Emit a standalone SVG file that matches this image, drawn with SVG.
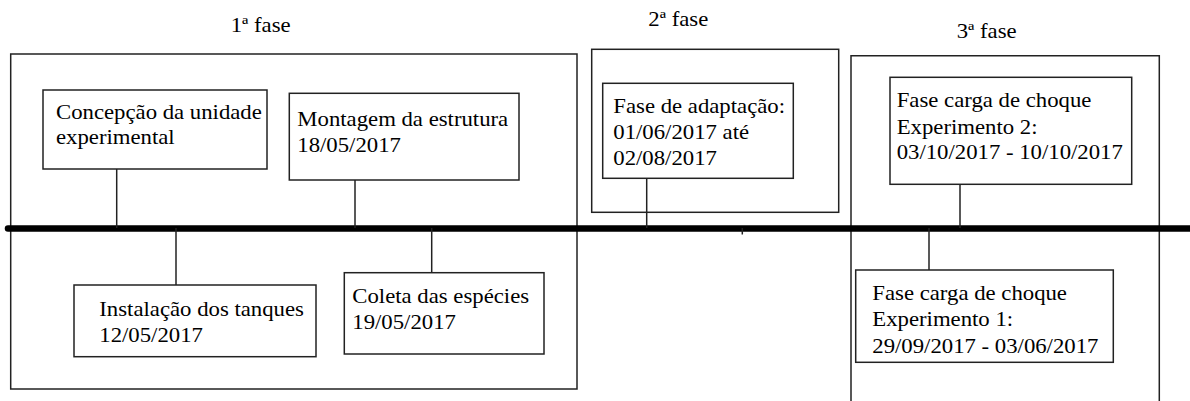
<svg xmlns="http://www.w3.org/2000/svg" width="1190" height="401" viewBox="0 0 1190 401">
<style>
.t{font-family:'Liberation Serif','Times New Roman',serif;font-size:20.5px;fill:#000}
.box{fill:#fff;stroke:#222;stroke-width:1.5}
.frame{fill:none;stroke:#222;stroke-width:1.5}
.c{stroke:#222;stroke-width:1.5;fill:none}
.axis{stroke:#000;stroke-width:6.5;stroke-linecap:round}
</style>
<rect width="1190" height="401" fill="#fff"/>
<g id="phase1">
<rect class="frame" x="10.7" y="54" width="566.3" height="335"/>
<text class="t" transform="translate(230.7,31.7) scale(1.11,1)">1ª fase</text>
</g>
<g id="phase2">
<rect class="frame" x="591.7" y="49.3" width="247" height="163"/>
<text class="t" transform="translate(648.3,26) scale(1.11,1)">2ª fase</text>
</g>
<g id="phase3">
<path class="frame" d="M851,402 V55.7 H1159.3 V402"/>
<text class="t" transform="translate(956.7,38.3) scale(1.11,1)">3ª fase</text>
</g>
<g id="connectors">
<line class="axis" x1="8" y1="228.5" x2="1195" y2="228.5"/>
<line class="c" x1="116.7" y1="169" x2="116.7" y2="228"/>
<line class="c" x1="355" y1="180" x2="355" y2="228"/>
<line class="c" x1="176" y1="228" x2="176" y2="285"/>
<line class="c" x1="431.7" y1="228" x2="431.7" y2="272.7"/>
<line class="c" x1="646.7" y1="178.3" x2="646.7" y2="228"/>
<line class="c" x1="742.3" y1="228" x2="742.3" y2="234.5"/>
<line class="c" x1="960" y1="184.3" x2="960" y2="228"/>
<line class="c" x1="929" y1="228" x2="929" y2="270"/>
</g>
<g id="concepcao">
<rect class="box" x="43" y="90" width="224" height="79"/>
<text class="t" transform="translate(56,119) scale(1.11,1)"><tspan x="0" y="0">Concepção da unidade</tspan><tspan x="0" y="25">experimental</tspan></text>
</g>
<g id="montagem">
<rect class="box" x="289.3" y="93.3" width="229.7" height="86.7"/>
<text class="t" transform="translate(297.3,125.7) scale(1.11,1)"><tspan x="0" y="0">Montagem da estrutura</tspan><tspan x="0" y="26.3">18/05/2017</tspan></text>
</g>
<g id="instalacao">
<rect class="box" x="74" y="285" width="242" height="71.7"/>
<text class="t" transform="translate(99.3,315.7) scale(1.11,1)"><tspan x="0" y="0">Instalação dos tanques</tspan><tspan x="0" y="26">12/05/2017</tspan></text>
</g>
<g id="coleta">
<rect class="box" x="344.3" y="272.7" width="199.7" height="81.3"/>
<text class="t" transform="translate(352.3,302.7) scale(1.11,1)"><tspan x="0" y="0">Coleta das espécies</tspan><tspan x="0" y="26.6">19/05/2017</tspan></text>
</g>
<g id="adaptacao">
<rect class="box" x="602.7" y="83.3" width="190.6" height="95"/>
<text class="t" transform="translate(613.3,113.3) scale(1.11,1)"><tspan x="0" y="0">Fase de adaptação:</tspan><tspan x="0" y="25.5">01/06/2017 até</tspan><tspan x="0" y="51.7">02/08/2017</tspan></text>
</g>
<g id="experimento2">
<rect class="box" x="890" y="77.3" width="241.7" height="107"/>
<text class="t" transform="translate(896.7,107.3) scale(1.11,1)"><tspan x="0" y="0">Fase carga de choque</tspan><tspan x="0" y="26.5">Experimento 2:</tspan><tspan x="0" y="52">03/10/2017 - 10/10/2017</tspan></text>
</g>
<g id="experimento1">
<rect class="box" x="855.7" y="270" width="257.6" height="92.3"/>
<text class="t" transform="translate(872.3,300) scale(1.11,1)"><tspan x="0" y="0">Fase carga de choque</tspan><tspan x="0" y="26">Experimento 1:</tspan><tspan x="0" y="52.7">29/09/2017 - 03/06/2017</tspan></text>
</g>
</svg>
